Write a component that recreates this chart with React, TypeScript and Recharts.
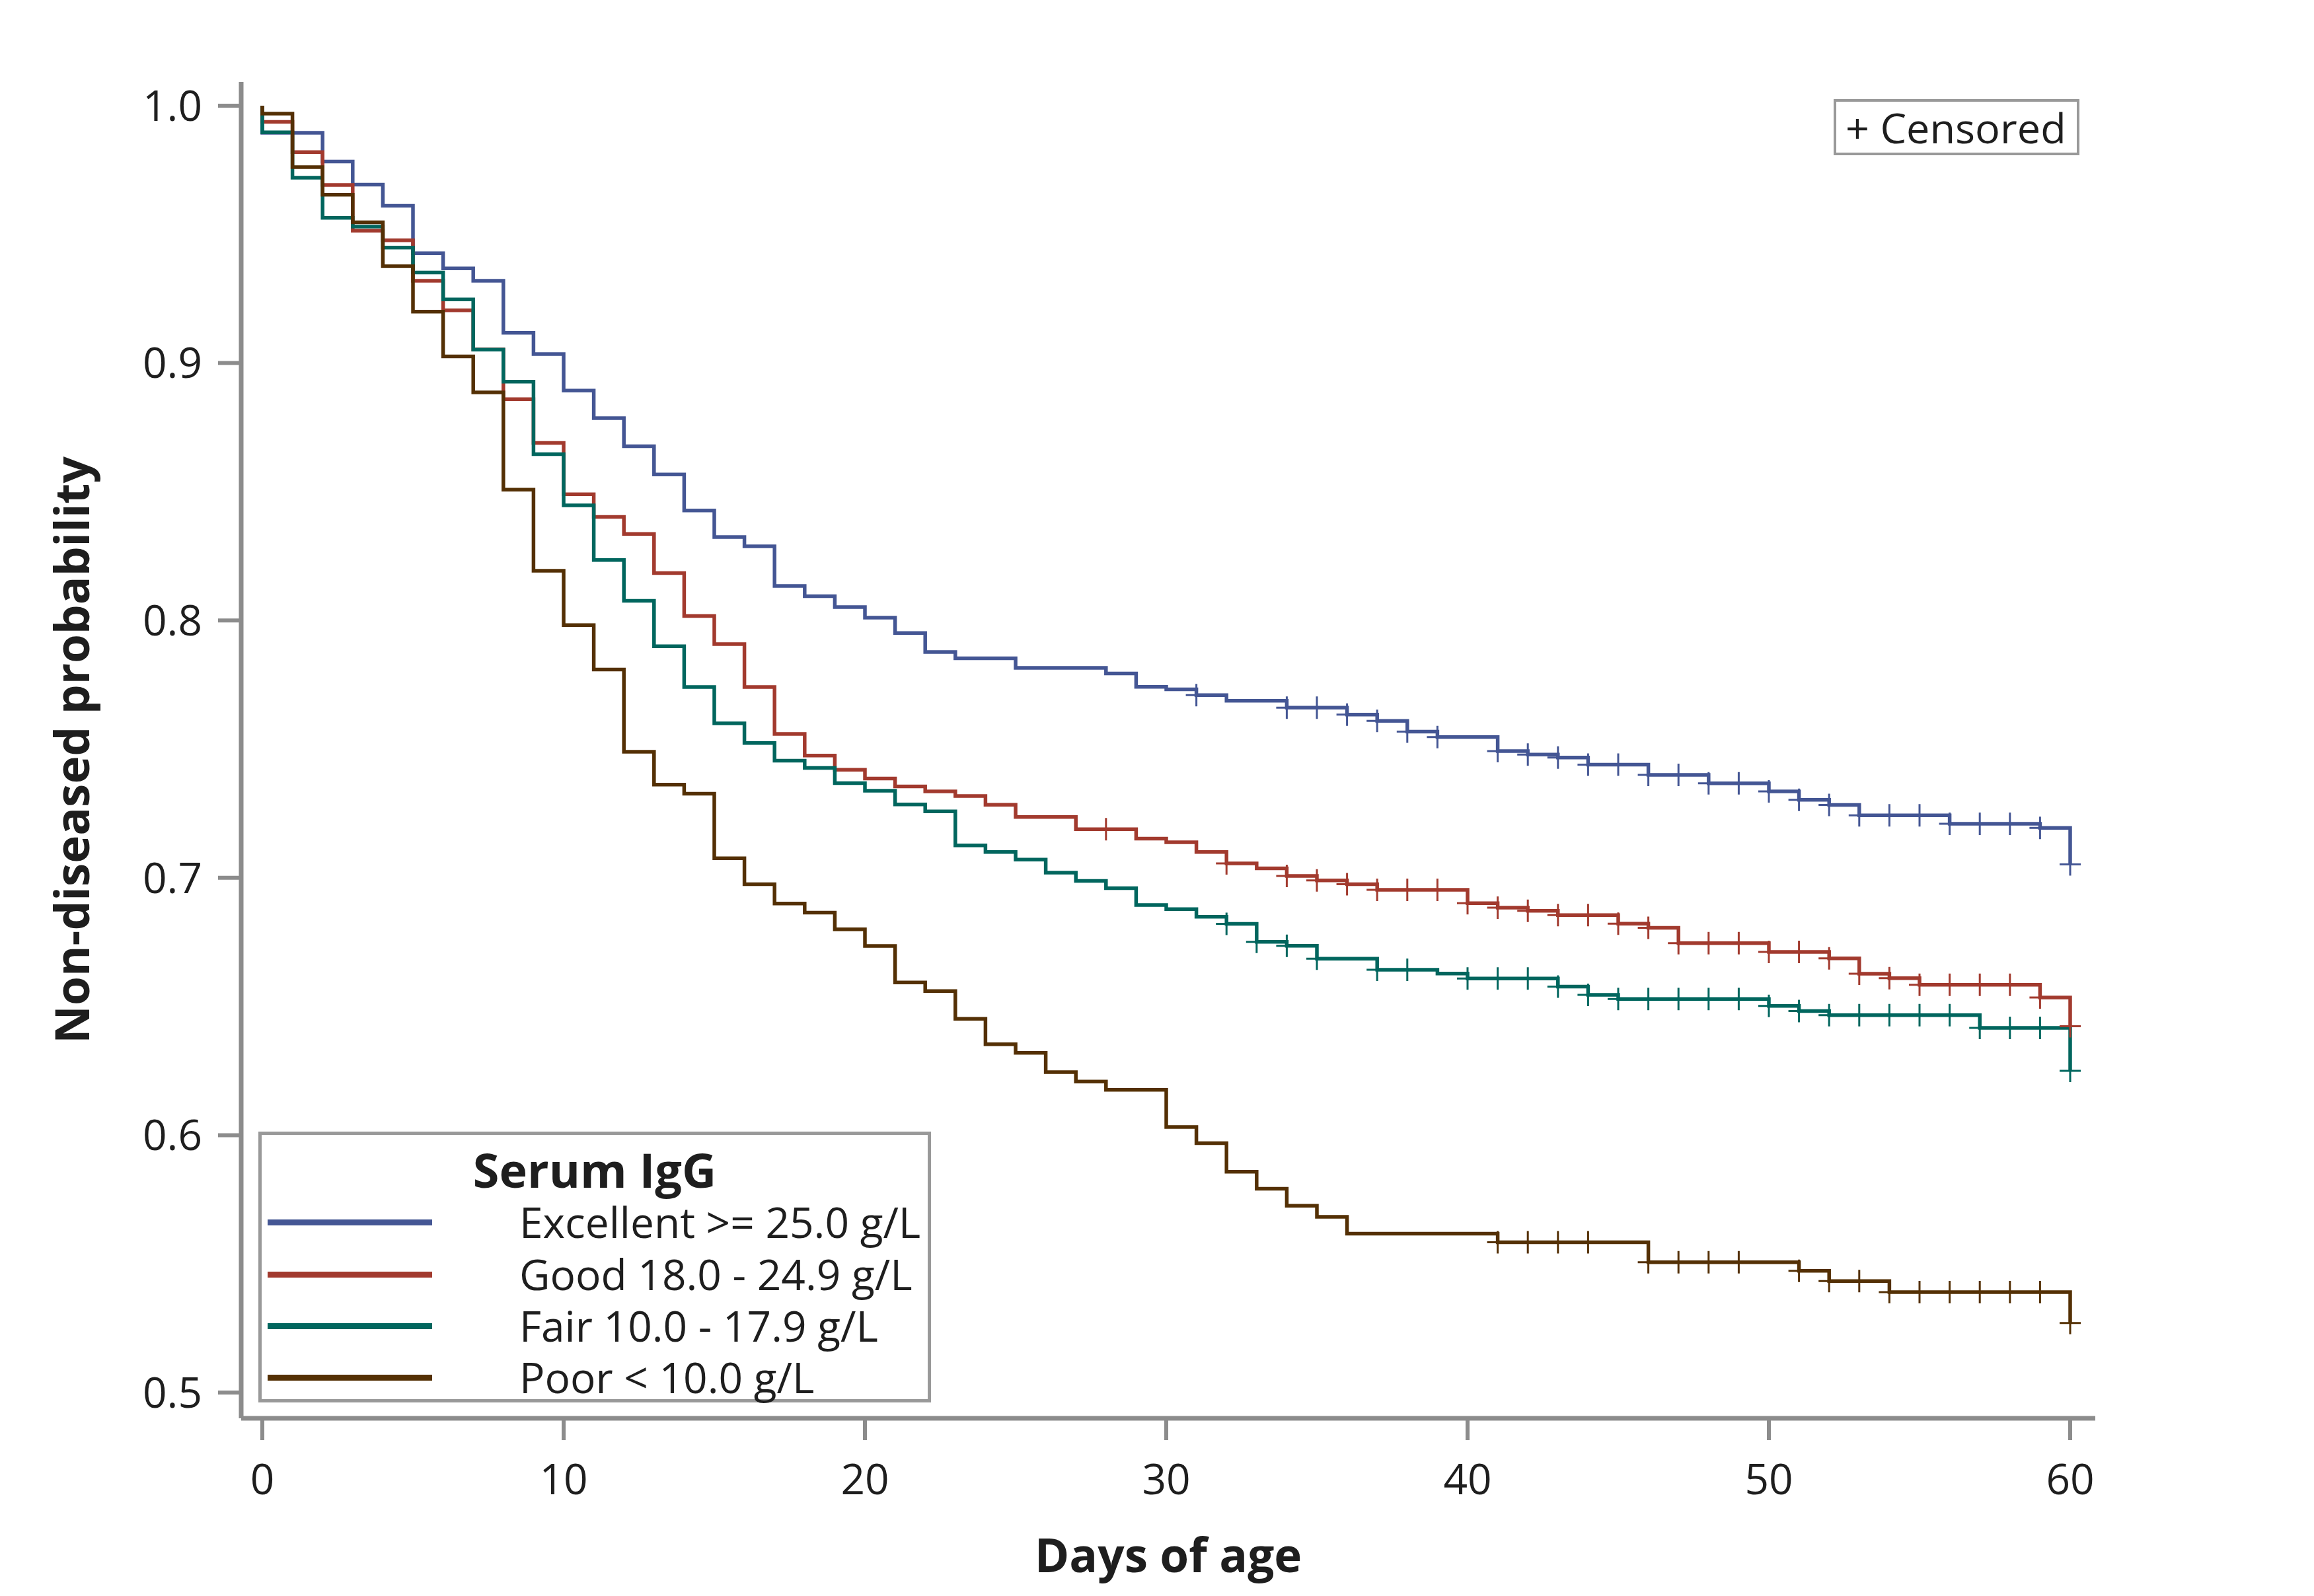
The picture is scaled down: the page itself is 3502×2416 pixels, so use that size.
import React from 'react';
import { LineChart, Line, XAxis, YAxis, Legend, Label } from 'recharts';

// Kaplan-Meier estimates, one value per day (value holds on [day, day + 1)).
const DAYS = [
  0, 1, 2, 3, 4, 5, 6, 7, 8, 9, 10, 11, 12, 13, 14, 15, 16, 17, 18, 19, 20,
  21, 22, 23, 24, 25, 26, 27, 28, 29, 30, 31, 32, 33, 34, 35, 36, 37, 38, 39, 40,
  41, 42, 43, 44, 45, 46, 47, 48, 49, 50, 51, 52, 53, 54, 55, 56, 57, 58, 59, 60,
];

const EXCELLENT = [
  0.9895, 0.9895, 0.9783, 0.9693, 0.9611, 0.9427, 0.9368, 0.932, 0.9118, 0.9035, 0.8893,
  0.8786, 0.8677, 0.8567, 0.8427, 0.8324, 0.8288, 0.8134, 0.8094, 0.8052, 0.8011,
  0.7951, 0.7877, 0.7853, 0.7853, 0.7816, 0.7816, 0.7816, 0.7794, 0.7742, 0.7732,
  0.771, 0.7688, 0.7688, 0.7661, 0.7661, 0.7634, 0.761, 0.7568, 0.7547, 0.7547,
  0.7492, 0.7479, 0.7467, 0.744, 0.744, 0.74, 0.74, 0.7367, 0.7367, 0.7336,
  0.7303, 0.7283, 0.7243, 0.7243, 0.7243, 0.721, 0.721, 0.721, 0.7194, 0.7052,
];

const GOOD = [
  0.9937, 0.982, 0.9692, 0.9514, 0.9477, 0.932, 0.9205, 0.9053, 0.886, 0.869, 0.849,
  0.8402, 0.8336, 0.8184, 0.8017, 0.7908, 0.7741, 0.7559, 0.7475, 0.742, 0.7386,
  0.7355, 0.7336, 0.7318, 0.7284, 0.7236, 0.7236, 0.7189, 0.7189, 0.7152, 0.7138,
  0.71, 0.7056, 0.7037, 0.7007, 0.699, 0.6975, 0.6953, 0.6953, 0.6953, 0.6901,
  0.6884, 0.6872, 0.6855, 0.6855, 0.6822, 0.6806, 0.6746, 0.6746, 0.6746, 0.6712,
  0.6712, 0.6687, 0.6627, 0.661, 0.6584, 0.6584, 0.6584, 0.6584, 0.6535, 0.6423,
];

const FAIR = [
  0.9897, 0.972, 0.9564, 0.953, 0.9449, 0.9352, 0.9247, 0.9052, 0.8928, 0.8646, 0.8447,
  0.8235, 0.8076, 0.79, 0.7741, 0.76, 0.7524, 0.7455, 0.7427, 0.7368, 0.7338,
  0.7285, 0.7258, 0.7126, 0.71, 0.7071, 0.702, 0.6988, 0.696, 0.6894, 0.6878,
  0.6849, 0.6821, 0.6751, 0.6736, 0.6686, 0.6686, 0.6643, 0.6643, 0.6628, 0.6609,
  0.6609, 0.6609, 0.6577, 0.6545, 0.6529, 0.6529, 0.6529, 0.6529, 0.6529, 0.6502,
  0.6482, 0.6466, 0.6466, 0.6466, 0.6466, 0.6466, 0.6417, 0.6417, 0.6417, 0.625,
];

const POOR = [
  0.9969, 0.9761, 0.9654, 0.9547, 0.9376, 0.92, 0.9026, 0.8886, 0.8508, 0.8193, 0.7982,
  0.7809, 0.749, 0.7362, 0.7327, 0.7076, 0.6975, 0.69, 0.6865, 0.68, 0.6735,
  0.6593, 0.656, 0.6452, 0.6353, 0.632, 0.6245, 0.6208, 0.6176, 0.6176, 0.6032,
  0.5969, 0.5858, 0.5792, 0.5726, 0.5683, 0.5617, 0.5617, 0.5617, 0.5617, 0.5617,
  0.5584, 0.5584, 0.5584, 0.5584, 0.5584, 0.5506, 0.5506, 0.5506, 0.5506, 0.5506,
  0.5473, 0.5433, 0.5433, 0.539, 0.539, 0.539, 0.539, 0.539, 0.539, 0.527,
];

// days with at least one censored animal
const CENSOR_EXCELLENT = [
  31, 34, 35, 36, 37, 38, 39, 41, 42, 43, 44, 45, 46, 47, 48, 49, 50, 51, 52, 53, 54,
  55, 56, 57, 58, 59, 60,
];
const CENSOR_GOOD = [
  28, 32, 34, 35, 36, 37, 38, 39, 40, 41, 42, 43, 44, 45, 46, 47, 48, 49, 50, 51, 52,
  53, 54, 55, 56, 57, 58, 59, 60,
];
const CENSOR_FAIR = [
  32, 33, 34, 35, 37, 38, 40, 41, 42, 43, 44, 45, 46, 47, 48, 49, 50, 51, 52, 53, 54,
  55, 56, 57, 58, 59, 60,
];
const CENSOR_POOR = [41, 42, 43, 44, 46, 47, 48, 49, 51, 52, 53, 54, 55, 56, 57, 58, 59, 60];

const SERIES_NAMES = [
  'Excellent >= 25.0 g/L',
  'Good 18.0 - 24.9 g/L',
  'Fair 10.0 - 17.9 g/L',
  'Poor < 10.0 g/L',
];
const SERIES_COLORS = ['#445694', '#a23a2e', '#01665e', '#543005'];

const X_TICKS = [0, 10, 20, 30, 40, 50, 60];
const Y_TICKS = [0.5, 0.6, 0.7, 0.8, 0.9, 1.0];

type Point = { day: number; surv: number; censored?: boolean };

function toCurve(values: number[], censorDays: number[]): Point[] {
  return [
    { day: 0, surv: 1 },
    ...values.map((v, i) => ({ day: DAYS[i], surv: v, censored: censorDays.includes(DAYS[i]) })),
  ];
}

const CURVES = [
  toCurve(EXCELLENT, CENSOR_EXCELLENT),
  toCurve(GOOD, CENSOR_GOOD),
  toCurve(FAIR, CENSOR_FAIR),
  toCurve(POOR, CENSOR_POOR),
];

const FONT = '"Open Sans", "DejaVu Sans", sans-serif';
const FRAME = '#8c8c8c';
const INK = '#1e1e1e';

const censorMark = (color: string) => (props: any) => {
  const { cx, cy, payload, index } = props;
  if (!payload?.censored || cx == null || cy == null) return <g key={`c-${index}`} />;
  return (
    <path
      key={`c-${index}`}
      d={`M${cx - 16},${cy}h32M${cx},${cy - 17}v34`}
      stroke={color}
      strokeWidth={3}
      fill="none"
    />
  );
};

function YTitle({ viewBox }: any) {
  const cx = viewBox.x + 107;
  const cy = viewBox.y + viewBox.height / 2;
  return (
    <text
      x={cx}
      y={cy}
      transform={`rotate(-90 ${cx} ${cy})`}
      textAnchor="middle"
      dominantBaseline="central"
      fontFamily={FONT}
      fontSize={71}
      fontWeight={700}
      fill={INK}
    >
      Non-diseased probability
    </text>
  );
}

// legend keys are drawn in series order, not the legend's sorted payload
function Keys() {
  const rowMid = [132, 211, 289, 367];
  const rowH = 70;
  return (
    <div style={{ position: 'absolute', left: 0, top: 0, width: 3502, height: 2416, fontFamily: FONT, color: INK }}>
      <div
        style={{
          position: 'absolute', left: 391, top: 1713, width: 1018, height: 410,
          border: `5px solid #999`, boxSizing: 'border-box', background: '#fff',
        }}
      >
        <div style={{ position: 'absolute', left: 0, right: 0, top: 52 - 36, height: 72, lineHeight: '72px', textAlign: 'center', fontSize: 72, fontWeight: 700 }}>
          Serum IgG
        </div>
        {SERIES_NAMES.map((name, i) => (
          <div key={name} style={{ position: 'absolute', left: 0, top: rowMid[i] - rowH / 2, height: rowH, width: '100%' }}>
            <div style={{ position: 'absolute', left: 9, top: rowH / 2 - 4.5, width: 249, height: 9, background: SERIES_COLORS[i] }} />
            <div style={{ position: 'absolute', left: 390, top: 0, height: rowH, lineHeight: `${rowH}px`, fontSize: 64, whiteSpace: 'nowrap' }}>
              {name}
            </div>
          </div>
        ))}
      </div>
      <div
        style={{
          position: 'absolute', left: 2775, top: 150, width: 372, height: 85,
          border: `4px solid #999`, boxSizing: 'border-box', background: '#fff',
          display: 'flex', alignItems: 'center', paddingLeft: 14, fontSize: 63, whiteSpace: 'nowrap',
        }}
      >
        + Censored
      </div>
    </div>
  );
}

export default function App() {
  return (
    <div style={{ position: 'absolute', left: 0, top: 0, width: 3502, height: 2416, background: '#fff' }}>
      <LineChart width={3502} height={2416} margin={{ top: 124, right: 331, bottom: 0, left: 0 }}>
        <XAxis
          dataKey="day"
          type="number"
          domain={[0, 60]}
          ticks={X_TICKS}
          padding={{ left: 32, right: 38 }}
          height={269}
          tickSize={33}
          tickMargin={37}
          axisLine={{ stroke: FRAME, strokeWidth: 7 }}
          tickLine={{ stroke: FRAME, strokeWidth: 6 }}
          tick={{ fontSize: 64, fill: INK, fontFamily: FONT }}
        >
          <Label value="Days of age" position="insideBottom" offset={36} fontSize={71} fontWeight={700} fontFamily={FONT} fill={INK} />
        </XAxis>
        <XAxis xAxisId="top" orientation="top" type="number" domain={[0, 60]} height={0} tick={false} tickLine={false} axisLine={{ stroke: FRAME, strokeWidth: 7 }} />
        <YAxis
          type="number"
          domain={[0.5, 1]}
          ticks={Y_TICKS}
          padding={{ top: 36, bottom: 39 }}
          width={365}
          tickSize={35}
          tickMargin={24}
          tickFormatter={(v: number) => v.toFixed(1)}
          axisLine={{ stroke: FRAME, strokeWidth: 7 }}
          tickLine={{ stroke: FRAME, strokeWidth: 6 }}
          tick={{ fontSize: 64, fill: INK, fontFamily: FONT }}
        >
          <Label content={(props: any) => <YTitle {...props} />} />
        </YAxis>
        <YAxis yAxisId="right" orientation="right" type="number" domain={[0.5, 1]} width={0} tick={false} tickLine={false} axisLine={{ stroke: FRAME, strokeWidth: 7 }} />
        <Legend
          layout="horizontal"
          verticalAlign="middle"
          align="center"
          wrapperStyle={{ left: 0, top: 0, width: 3502, height: 2416, pointerEvents: 'none' }}
          content={() => <Keys />}
        />
        {CURVES.map((curve, i) => (
          <Line
            key={SERIES_NAMES[i]}
            data={curve}
            dataKey="surv"
            name={SERIES_NAMES[i]}
            type="stepAfter"
            stroke={SERIES_COLORS[i]}
            strokeWidth={5.5}
            dot={censorMark(SERIES_COLORS[i])}
            activeDot={false}
            legendType="line"
            isAnimationActive={false}
          />
        ))}
      </LineChart>
    </div>
  );
}
